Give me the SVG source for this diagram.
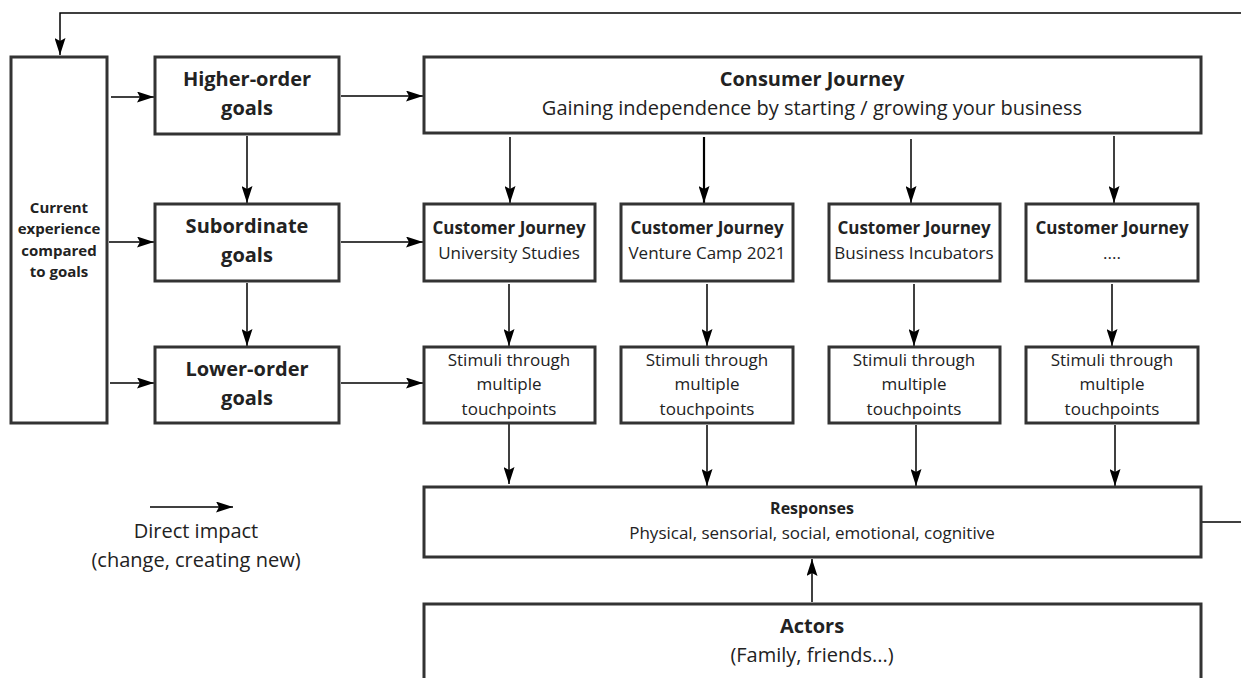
<svg xmlns="http://www.w3.org/2000/svg" width="1241" height="678" viewBox="0 0 1241 678">
<defs>
<marker id="ah" markerWidth="17" markerHeight="11" refX="17" refY="5.5" orient="auto" markerUnits="userSpaceOnUse">
<path d="M0,0 L17,5.5 L0,11 L3,5.5 Z" fill="#000"/>
</marker>
<style>
.box{fill:#fff;stroke:#333;stroke-width:3}
.ln{fill:none;stroke:#000;stroke-width:1.5}
.arr{fill:none;stroke:#000;stroke-width:1.5;marker-end:url(#ah)}
text{font-family:"Open Sans","Noto Sans","Liberation Sans",sans-serif;fill:#222;text-anchor:middle}
.b{font-weight:bold}
.t20{font-size:20px}
.t17{font-size:17px}
.t16{font-size:16px}
.t15{font-size:15px}
</style>
</defs>
<rect width="1241" height="678" fill="#fff"/>

<g id="connectors">
<polyline class="arr" points="1241,13 60,13 60,55"/>
<line class="ln" x1="1201" y1="522" x2="1241" y2="522"/>
<line class="arr" x1="111" y1="97" x2="154" y2="97"/>
<line class="arr" x1="109" y1="242" x2="154" y2="242"/>
<line class="arr" x1="110" y1="383" x2="154" y2="383"/>
<line class="arr" x1="341" y1="96" x2="423" y2="96"/>
<line class="arr" x1="341" y1="242" x2="423" y2="242"/>
<line class="arr" x1="341" y1="383" x2="423" y2="383"/>
<line class="arr" x1="247" y1="136" x2="247" y2="203"/>
<line class="arr" x1="247" y1="283" x2="247" y2="346"/>
<line class="arr" x1="510" y1="137" x2="510" y2="203"/>
<line class="arr" x1="704" y1="137" x2="704" y2="203" style="stroke-width:2.2"/>
<line class="arr" x1="911" y1="139" x2="911" y2="203"/>
<line class="arr" x1="1114" y1="136" x2="1114" y2="203"/>
<line class="arr" x1="509" y1="284" x2="509" y2="346"/>
<line class="arr" x1="707" y1="284" x2="707" y2="346"/>
<line class="arr" x1="914" y1="284" x2="914" y2="346"/>
<line class="arr" x1="1112" y1="284" x2="1112" y2="346"/>
<line class="arr" x1="509" y1="412" x2="509" y2="484"/>
<line class="arr" x1="707" y1="425" x2="707" y2="486"/>
<line class="arr" x1="916" y1="425" x2="916" y2="486"/>
<line class="arr" x1="1115" y1="425" x2="1115" y2="486"/>
<line class="arr" x1="812" y1="602" x2="812" y2="559"/>
<line class="arr" x1="150" y1="507" x2="233" y2="507"/>
</g>

<g id="current">
<rect class="box" x="11" y="57" width="96" height="366"/>
<text class="b t15" x="59" y="213">Current</text>
<text class="b t15" x="59" y="234">experience</text>
<text class="b t15" x="59" y="256">compared</text>
<text class="b t15" x="59" y="277">to goals</text>
</g>

<g id="higher">
<rect class="box" x="155" y="57" width="184" height="77"/>
<text class="b t20" x="247" y="86">Higher-order</text>
<text class="b t20" x="247" y="115">goals</text>
</g>
<g id="subordinate">
<rect class="box" x="155" y="204" width="184" height="77"/>
<text class="b t20" x="247" y="233">Subordinate</text>
<text class="b t20" x="247" y="262">goals</text>
</g>
<g id="lower">
<rect class="box" x="155" y="347" width="184" height="76"/>
<text class="b t20" x="247" y="376">Lower-order</text>
<text class="b t20" x="247" y="405">goals</text>
</g>

<g id="consumer">
<rect class="box" x="424" y="57" width="777" height="76"/>
<text class="b t20" x="812" y="86">Consumer Journey</text>
<text class="t20" x="812" y="115">Gaining independence by starting / growing your business</text>
</g>

<g id="cj1">
<rect class="box" x="424" y="204" width="171" height="77"/>
<text class="b t17" x="509" y="234">Customer Journey</text>
<text class="t17" x="509" y="259">University Studies</text>
</g>
<g id="cj2">
<rect class="box" x="621" y="204" width="172" height="77"/>
<text class="b t17" x="707" y="234">Customer Journey</text>
<text class="t17" x="707" y="259">Venture Camp 2021</text>
</g>
<g id="cj3">
<rect class="box" x="829" y="204" width="171" height="77"/>
<text class="b t17" x="914" y="234">Customer Journey</text>
<text class="t17" x="914" y="259">Business Incubators</text>
</g>
<g id="cj4">
<rect class="box" x="1026" y="204" width="172" height="77"/>
<text class="b t17" x="1112" y="234">Customer Journey</text>
<text class="t17" x="1112" y="259">....</text>
</g>

<g id="st1">
<rect class="box" x="424" y="347" width="171" height="76"/>
<text class="t17" x="509" y="366">Stimuli through</text>
<text class="t17" x="509" y="390">multiple</text>
<text class="t17" x="509" y="415">touchpoints</text>
</g>
<g id="st2">
<rect class="box" x="621" y="347" width="172" height="76"/>
<text class="t17" x="707" y="366">Stimuli through</text>
<text class="t17" x="707" y="390">multiple</text>
<text class="t17" x="707" y="415">touchpoints</text>
</g>
<g id="st3">
<rect class="box" x="829" y="347" width="171" height="76"/>
<text class="t17" x="914" y="366">Stimuli through</text>
<text class="t17" x="914" y="390">multiple</text>
<text class="t17" x="914" y="415">touchpoints</text>
</g>
<g id="st4">
<rect class="box" x="1026" y="347" width="172" height="76"/>
<text class="t17" x="1112" y="366">Stimuli through</text>
<text class="t17" x="1112" y="390">multiple</text>
<text class="t17" x="1112" y="415">touchpoints</text>
</g>

<g id="responses">
<rect class="box" x="424" y="487" width="777" height="70"/>
<text class="b t16" x="812" y="514">Responses</text>
<text class="t17" x="812" y="539">Physical, sensorial, social, emotional, cognitive</text>
</g>

<g id="actors">
<rect class="box" x="424" y="604" width="777" height="90"/>
<text class="b t20" x="812" y="633">Actors</text>
<text class="t20" x="812" y="662">(Family, friends...)</text>
</g>

<g id="legend">
<text class="t20" x="196" y="538">Direct impact</text>
<text class="t20" x="196" y="567">(change, creating new)</text>
</g>
</svg>
